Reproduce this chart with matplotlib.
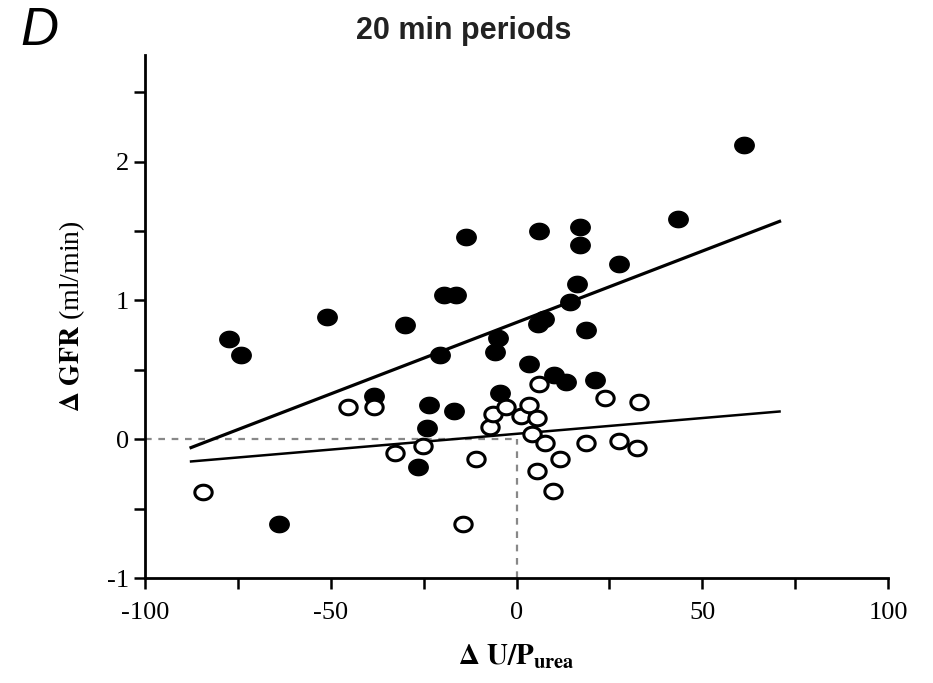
import numpy as np
import matplotlib.pyplot as plt
from matplotlib.path import Path
from matplotlib.ticker import MultipleLocator

plt.rcParams['font.family'] = ['Liberation Serif', 'DejaVu Serif']
plt.rcParams['mathtext.fontset'] = 'stix'
plt.rcParams['axes.unicode_minus'] = False

# filled circles (black)
filled_x = [61.1, 43.4, -13.6, 6.0, 17.1, 17.1, 27.5, 16.3, 14.3, -19.4, -16.4,
            -51.0, -30.0, -77.3, -74.1, 7.3, 5.8, 18.6, -5.0, -5.9, -20.6, 3.3,
            10.2, 13.2, 21.1, -4.5, -38.4, -23.6, -16.7, -24.1, -26.6, -64.0]
filled_y = [2.12, 1.59, 1.46, 1.50, 1.53, 1.40, 1.26, 1.12, 0.99, 1.04, 1.04,
            0.88, 0.82, 0.72, 0.61, 0.87, 0.83, 0.79, 0.73, 0.63, 0.61, 0.54,
            0.46, 0.41, 0.43, 0.33, 0.31, 0.25, 0.20, 0.08, -0.20, -0.61]

# open circles
open_x = [-84.4, -45.4, -38.4, -32.6, -25.2, -14.4, -10.8, -7.1, -6.2, -2.8,
          1.3, 3.3, 5.6, 6.1, 4.2, 7.6, 5.5, 9.8, 11.8, 18.6, 23.9, 32.9,
          27.5, 32.4]
open_y = [-0.38, 0.23, 0.23, -0.10, -0.05, -0.61, -0.14, 0.09, 0.18, 0.23,
          0.17, 0.25, 0.15, 0.40, 0.04, -0.03, -0.23, -0.37, -0.14, -0.03, 0.30,
          0.27, -0.01, -0.06]

# regression lines (end points)
fit_x = [-87.6, 70.8]
fit_filled_y = [-0.06, 1.57]
fit_open_y = [-0.16, 0.20]

# slightly flattened circle, like the scanned markers
t = np.linspace(0, 2 * np.pi, 41)
oval = Path(np.column_stack([np.cos(t), 0.84 * np.sin(t)]), closed=True)

fig = plt.figure(figsize=(9.33, 6.83), dpi=100)
ax = fig.add_axes([0.1554, 0.1537, 0.7964, 0.766])

# dashed reference lines
ax.plot([-100, 0], [0, 0], linestyle=(0, (3, 3)), color='#888888', lw=1.6, zorder=1)
ax.plot([0, 0], [-1, 0], linestyle=(0, (3, 3)), color='#888888', lw=1.6, zorder=1)

ax.plot(fit_x, fit_filled_y, color='black', lw=2.3, zorder=2)
ax.plot(fit_x, fit_open_y, color='black', lw=1.8, zorder=2)

ax.plot(filled_x, filled_y, ls='none', marker=oval, ms=14, color='black', mec='black', zorder=3)
ax.plot(open_x, open_y, ls='none', marker=oval, ms=12.5, mfc='white', mec='black', mew=2.2, zorder=4)

ax.set_xlim(-100, 100)
ax.set_ylim(-1, 2.77)
ax.xaxis.set_major_locator(MultipleLocator(50))
ax.xaxis.set_minor_locator(MultipleLocator(25))
ax.yaxis.set_major_locator(MultipleLocator(1))
ax.yaxis.set_minor_locator(MultipleLocator(0.5))
ax.tick_params(which='both', direction='out', length=8, width=1.8, labelsize=19)
ax.tick_params(axis='x', pad=9)

for s in ['top', 'right']:
    ax.spines[s].set_visible(False)
for s in ['left', 'bottom']:
    ax.spines[s].set_linewidth(2)

ax.set_xlabel(r'$\mathbf{\Delta\ U/P_{urea}}$', fontsize=21, labelpad=14)
ax.set_ylabel(r'$\mathbf{\Delta\ GFR}$ (ml/min)', fontsize=20, labelpad=14)

fig.text(0.497, 0.955, '20 min periods', fontsize=22, fontweight='bold',
         family='Liberation Sans', color='#222222', ha='center', va='center')
fig.text(0.022, 0.955, 'D', fontsize=38, style='italic',
         family='Liberation Sans', ha='left', va='center')

fig.savefig('out.png', dpi=100)
